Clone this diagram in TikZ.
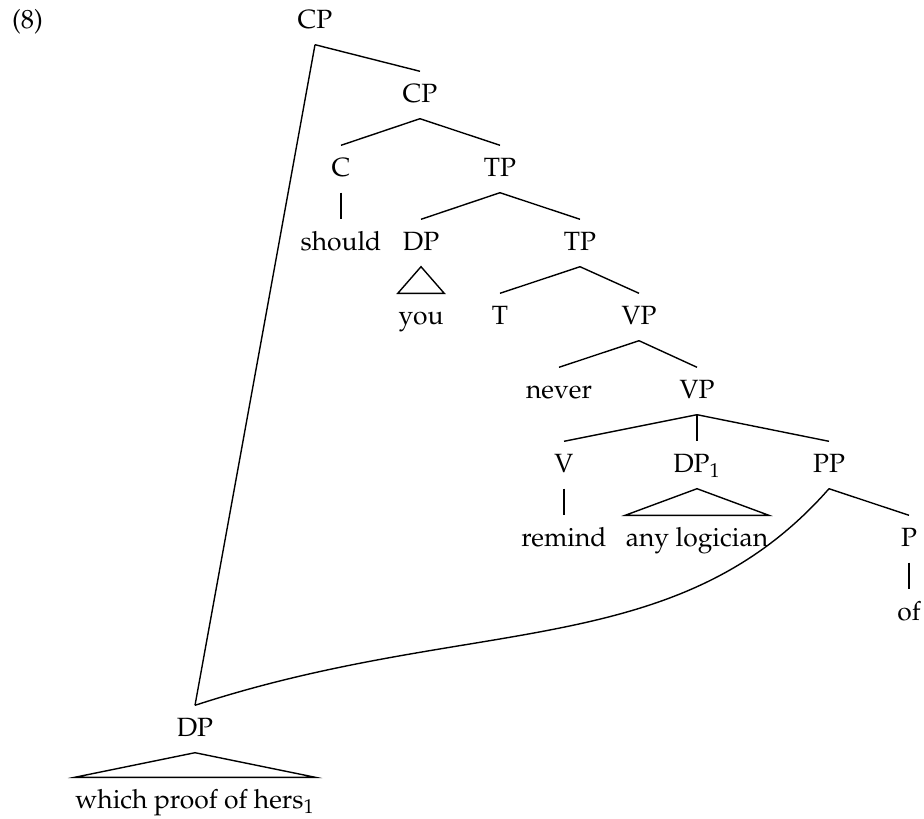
\documentclass[tikz,border=0pt]{standalone}
\usepackage[T1]{fontenc}
\usepackage{mathpazo}
\usepackage{amsmath,amssymb}
\usepackage{tikz}

\begin{document}
\begin{tikzpicture}[x=1pt, y=-1pt, node distance=37pt, line width=0.7pt,
		lab/.style = {inner xsep=0pt, inner ysep=4pt, text height=11.25pt, text depth=3.75pt,
			font=\fontsize{13.2pt}{16pt}\selectfont}]
			\useasboundingbox (0,0) rectangle (462,409);

			\node[lab] (ex) at (13.75,10.5) {(8)};
			\node[lab] (cp1) at (157.5,10.5) {CP};
			\node[lab] (cp2) [below of=cp1, xshift=52.5pt] {CP};
			\node[lab] (c) [below of=cp2, xshift=-39.5pt] {C};
			\node[lab] (tp1) [below of=cp2, xshift=40pt] {TP};
			\node[lab] (should) [below of=c] {should};
			\node[lab] (dp2) [below of=tp1, xshift=-39.5pt] {DP};
			\node[lab] (tp2) [below of=tp1, xshift=40pt] {TP};
			\node[lab] (you) [below of=dp2] {you};
			\node[lab] (t) [below of=tp2, xshift=-40pt] {T};
			\node[lab] (vp1) [below of=tp2, xshift=29.5pt] {VP};
			\node[lab] (never) [below of=vp1, xshift=-40pt] {never};
			\node[lab] (vp2) [below of=vp1, xshift=29pt] {VP};
			\node[lab] (v) [below of=vp2, xshift=-66.5pt] {V};
			\node[lab] (dp1) [below of=vp2] {DP$_1$};
			\node[lab] (pp) [below of=vp2, xshift=66pt] {PP};
			\node[lab] (remind) [below of=v] {remind};
			\node[lab] (logician) [below of=dp1] {any logician};
			\node[lab] (p) [below of=pp, xshift=40pt] {P};
			\node[lab] (of) [below of=p] {of};
			\node[lab] (dp3) at (97.5,364.5) {DP};
			\node[lab] (hers) [below of=dp3, node distance=36pt] {which proof of hers$_1$};

			\draw (cp1.south) -- (cp2.north);
			\draw (cp1.south) -- (dp3.north);
			\draw (cp2.south) -- (c.north);
			\draw (cp2.south) -- (tp1.north);
			\draw (c.south) -- (should.north);
			\draw (tp1.south) -- (dp2.north);
			\draw (tp1.south) -- (tp2.north);
			\draw (dp2.south) -- (you.north west) -- (you.north east) -- cycle;
			\draw (tp2.south) -- (t.north);
			\draw (tp2.south) -- (vp1.north);
			\draw (vp1.south) -- (never.north);
			\draw (vp1.south) -- (vp2.north);
			\draw (vp2.south) -- (v.north);
			\draw (vp2.south) -- (dp1.north);
			\draw (vp2.south) -- (pp.north);
			\draw (v.south) -- (remind.north);
			\draw (dp1.south) -- (logician.north west) -- (logician.north east) -- cycle;
			\draw (pp.south) -- (p.north);
			\draw (p.south) -- (of.north);
			\draw (dp3.south) -- (hers.north west) -- (hers.north east) -- cycle;

			% movement
			\draw (pp.south) .. controls +(-76.5,87) and +(139.5,-45.5) .. (dp3.north);
		\end{tikzpicture}
\end{document}
